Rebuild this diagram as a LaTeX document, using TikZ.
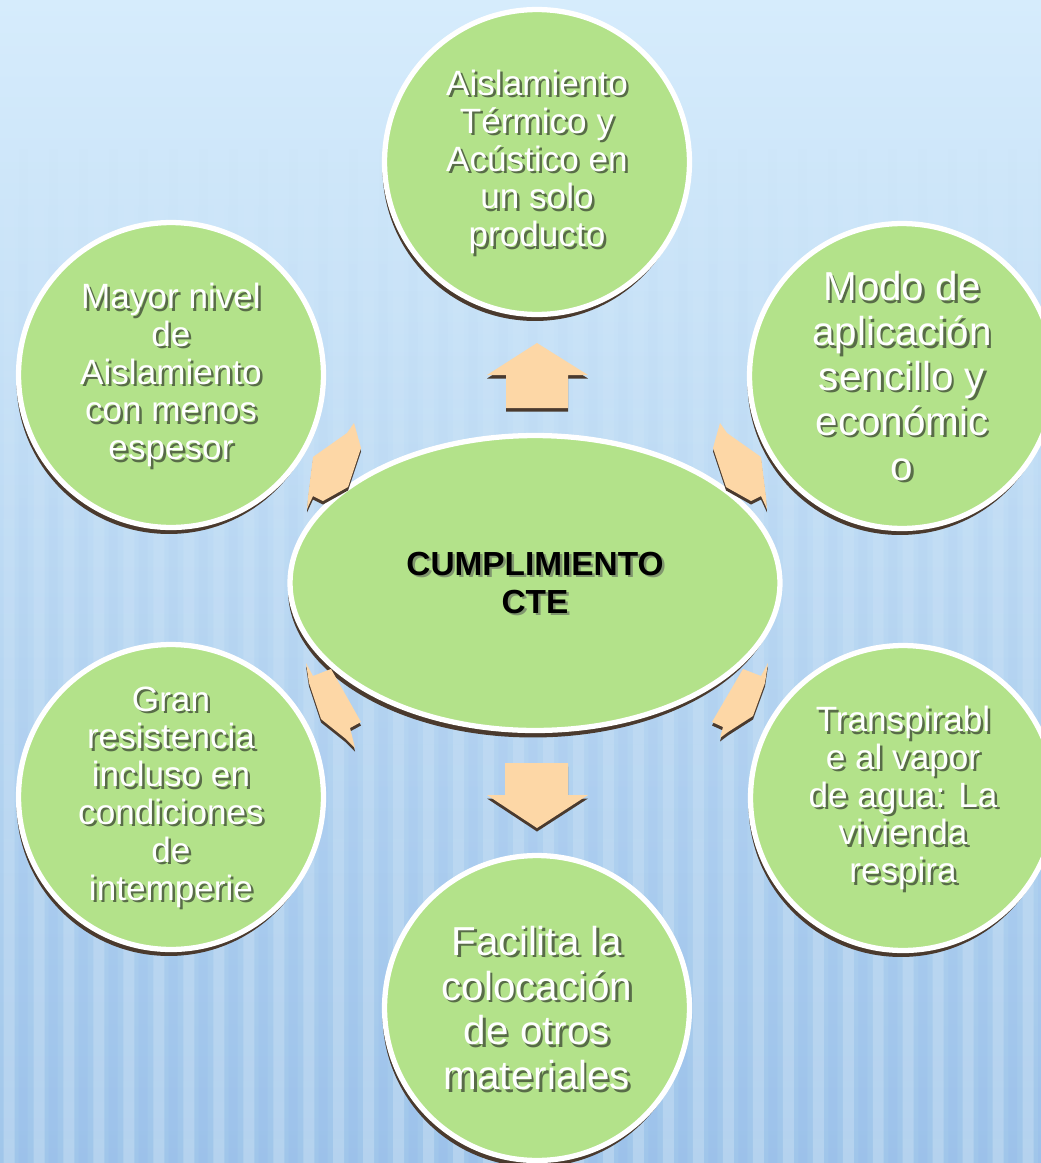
\documentclass[tikz,border=0pt]{standalone}
\usepackage{fontspec}
\setmainfont{Liberation Sans}
\usetikzlibrary{shapes.geometric,shadows,fadings}

\definecolor{bubblegreen}{RGB}{179,226,138}
\definecolor{rimbrown}{RGB}{74,58,46}
\definecolor{arrowpeach}{RGB}{253,215,166}
\definecolor{skytop}{RGB}{214,236,252}
\definecolor{skymid}{RGB}{196,227,249}
\definecolor{skybottom}{RGB}{160,198,234}
\definecolor{txtshade}{RGB}{88,108,72}
\definecolor{hubshade}{RGB}{128,150,110}

\newcommand{\shadowed}[4]{%
    \node[bubbletxt,#2,text=#3,xshift=1.4pt,yshift=-1.4pt] (#1-sh) at (#1) {#4};
    \node[bubbletxt,#2] (#1-txt) at (#1) {#4};
}

\begin{document}
\begin{tikzpicture}[x=0.02cm,y=-0.02cm,
        bubble/.style={circle,fill=bubblegreen,draw=white,line width=3pt,
            minimum size=6.1cm,inner sep=0pt,
            drop shadow={shadow xshift=-0.04cm,shadow yshift=-0.13cm,fill=rimbrown,opacity=1}},
        hub/.style={ellipse,fill=bubblegreen,draw=white,line width=3pt,
            minimum width=9.8cm,minimum height=5.9cm,inner sep=0pt,
            drop shadow={shadow xshift=-0.04cm,shadow yshift=-0.14cm,fill=rimbrown,opacity=1}},
        blockarrow/.style={fill=arrowpeach,
            drop shadow={shadow xshift=0cm,shadow yshift=-0.07cm,fill=rimbrown,opacity=1}},
        bubbletxt/.style={text=white,align=center,inner sep=0pt,
            font=\fontsize{20}{21.5}\selectfont},
        bigtxt/.style={font=\fontsize{23}{25.5}\selectfont},
        hubtxt/.style={text=black,font=\fontsize{19}{21.6}\selectfont\bfseries}
    ]
    \useasboundingbox (0,0) rectangle (1041,1163);
    \clip (0,0) rectangle (1041,1163);
    \fill[top color=skytop,middle color=skymid,bottom color=skybottom] (0,0) rectangle (1041,1163);
    \fill[white,opacity=.22,path fading=north]
        \foreach \x in {4,34,...,1040} {(\x,120) rectangle ++(11,1043)};
    \fill[skybottom!70!blue,opacity=.07,path fading=north]
        \foreach \x in {19,49,...,1040} {(\x,120) rectangle ++(9,1043)};

    \node[hub] (cte) at (535,583) {};
    \node[bubble] (termico) at (537,162) {};
    \node[bubble] (modo) at (902,376) {};
    \node[bubble] (transpira) at (903,798) {};
    \node[bubble] (facilita) at (537,1008) {};
    \node[bubble] (resistencia) at (171,797) {};
    \node[bubble] (espesor) at (171,375) {};

    \fill[blockarrow] (537,343) -- (588,375) -- (568,375) -- (568,408)
        -- (506,408) -- (506,375) -- (487,375) -- cycle;
    \fill[blockarrow] (505,763) -- (568,763) -- (568,795) -- (588,795)
        -- (537,828) -- (487,795) -- (505,795) -- cycle;
    \fill[blockarrow] (354,423) -- (361,448) -- (348,487) -- (323,501) -- (313,496)
        -- (307,509) -- (308,497) -- (313,457) -- (347,433) -- cycle;
    \fill[blockarrow] (720,423) -- (713,448) -- (726,487) -- (751,501) -- (761,496)
        -- (767,509) -- (766,497) -- (761,457) -- (727,433) -- cycle;
    \fill[blockarrow] (306,663) -- (313,676) -- (331,669) -- (361,722) -- (350,728)
        -- (355,748) -- (346,739) -- (321,719) -- (309,683) -- cycle;
    \fill[blockarrow] (768,663) -- (761,676) -- (743,669) -- (712,722) -- (723,727)
        -- (720,738) -- (728,732) -- (753,716) -- (765,683) -- cycle;

    \shadowed{cte}{hubtxt}{hubshade}{CUMPLIMIENTO\\CTE}
    \shadowed{termico}{}{txtshade}{Aislamiento\\Térmico y\\Acústico en\\un solo\\producto}
    \shadowed{modo}{bigtxt}{txtshade}{Modo de\\aplicación\\sencillo y\\económic\\o}
    \shadowed{transpira}{}{txtshade}{Transpirabl\\e al vapor\\de agua: La\\vivienda\\respira}
    \shadowed{facilita}{bigtxt}{txtshade}{Facilita la\\colocación\\de otros\\materiales}
    \shadowed{resistencia}{}{txtshade}{Gran\\resistencia\\incluso en\\condiciones\\de\\intemperie}
    \shadowed{espesor}{}{txtshade}{Mayor nivel\\de\\Aislamiento\\con menos\\espesor}
\end{tikzpicture}
\end{document}
